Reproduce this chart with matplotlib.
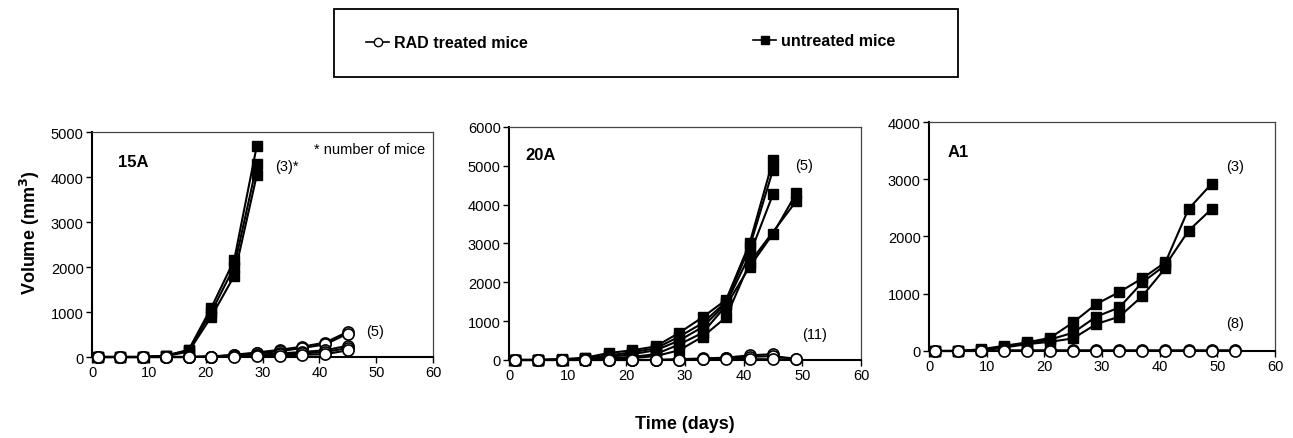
import matplotlib; matplotlib.use("Agg")
import matplotlib.pyplot as plt
from matplotlib.lines import Line2D
from matplotlib.patches import Rectangle

plt.rcParams['font.family'] = ['Liberation Sans', 'DejaVu Sans']

# ---- 15A ----
days_15a_untr = [1, 5, 9, 13, 17, 21, 25, 29]
untr_15a = [
    [0, 0, 0, 30, 160, 1100, 2150, 4700],
    [0, 0, 0, 30, 150, 1000, 2000, 4280],
    [0, 0, 0, 20, 120, 900, 1800, 4050],
]
days_15a_rad = [1, 5, 9, 13, 17, 21, 25, 29, 33, 37, 41, 45]
rad_15a = [
    [0, 0, 0, 0, 0, 10, 50, 100, 160, 230, 320, 560],
    [0, 0, 0, 0, 0, 10, 40, 80, 130, 200, 280, 520],
    [0, 0, 0, 0, 0, 5, 30, 50, 80, 110, 150, 250],
    [0, 0, 0, 0, 0, 5, 20, 40, 60, 80, 110, 200],
    [0, 0, 0, 0, 0, 5, 10, 20, 30, 50, 60, 150],
]

# ---- 20A ----
days_20a_untr = [
    [1, 5, 9, 13, 17, 21, 25, 29, 33, 37, 41, 45],
    [1, 5, 9, 13, 17, 21, 25, 29, 33, 37, 41, 45],
    [1, 5, 9, 13, 17, 21, 25, 29, 33, 37, 41, 45],
    [1, 5, 9, 13, 17, 21, 25, 29, 33, 37, 41, 45, 49],
    [1, 5, 9, 13, 17, 21, 25, 29, 33, 37, 41, 49],
]
untr_20a = [
    [0, 0, 20, 60, 180, 250, 350, 700, 1100, 1550, 3000, 5150],
    [0, 0, 10, 40, 120, 200, 300, 600, 950, 1500, 2900, 4900],
    [0, 0, 10, 30, 80, 150, 250, 500, 850, 1450, 2700, 4270],
    [0, 0, 5, 20, 50, 80, 150, 400, 700, 1400, 2400, 3250, 4300],
    [0, 0, 0, 10, 30, 50, 100, 250, 600, 1100, 2500, 4100],
]
days_20a_rad = [
    [1, 5, 9, 13, 17, 21, 25, 29, 33, 37, 41, 45],
    [1, 5, 9, 13, 17, 21, 25, 29, 33, 37, 41, 45, 49],
    [1, 5, 9, 13, 17, 21, 25, 29, 33, 37, 41, 45, 49],
]
rad_20a = [
    [0, 0, 0, 0, 0, 0, 0, 20, 40, 60, 120, 150],
    [0, 0, 0, 0, 0, 0, 0, 10, 30, 50, 80, 100, 30],
    [0, 0, 0, 0, 0, 0, 0, 0, 20, 30, 20, 20, 20],
]

# ---- A1 ----
days_a1_untr = [
    [1, 5, 9, 13, 17, 21, 25, 29, 33, 37, 41, 45, 49],
    [1, 5, 9, 13, 17, 21, 25, 29, 33, 37, 41, 45, 49],
    [1, 5, 9, 13, 17, 21, 25, 29, 33, 37, 41],
]
untr_a1 = [
    [0, 0, 30, 90, 150, 230, 500, 820, 1030, 1270, 1550, 2480, 2920],
    [0, 0, 20, 70, 130, 200, 320, 600, 760, 1200, 1500, 2100, 2480],
    [0, 0, 10, 60, 120, 160, 220, 470, 600, 960, 1450],
]
days_a1_rad = [1, 5, 9, 13, 17, 21, 25, 29, 33, 37, 41, 45, 49, 53]
rad_a1 = [
    [0, 0, 0, 10, 10, 10, 10, 10, 10, 10, 10, 10, 10, 10],
    [0, 0, 0, 5, 5, 5, 5, 5, 5, 5, 5, 5, 5, 5],
]

sq = dict(color='black', marker='s', ms=7, lw=1.5, mfc='black', mec='black')
ci = dict(color='black', marker='o', ms=8, lw=1.5, mfc='white', mec='black', mew=1.2)
ann = 10.5

fig = plt.figure(figsize=(12.93, 4.39), dpi=100)
pos = [(0.0712, 0.1845, 0.2637, 0.5125),
       (0.3937, 0.1777, 0.2722, 0.5308),
       (0.7185, 0.1982, 0.2676, 0.5216)]
axs = [fig.add_axes(p) for p in pos]

# panel 1
ax = axs[0]
for v in untr_15a:
    ax.plot(days_15a_untr, v, zorder=2, **sq)
for v in rad_15a:
    ax.plot(days_15a_rad, v, zorder=3, **ci)
ax.set_ylim(0, 5000); ax.set_yticks(range(0, 5001, 1000))
ax.text(4.6, 4350, '15A', fontsize=12, fontweight='bold', va='center')
ax.text(32.2, 4240, '(3)*', fontsize=ann, va='center')
ax.text(39, 4620, '* number of mice', fontsize=ann, va='center')
ax.text(48.3, 580, '(5)', fontsize=ann, va='center')

# panel 2
ax = axs[1]
for d, v in zip(days_20a_untr, untr_20a):
    ax.plot(d, v, zorder=2, **sq)
for d, v in zip(days_20a_rad, rad_20a):
    ax.plot(d, v, zorder=3, **ci)
ax.set_ylim(0, 6000); ax.set_yticks(range(0, 6001, 1000))
ax.text(2.7, 5300, '20A', fontsize=12, fontweight='bold', va='center')
ax.text(48.7, 5020, '(5)', fontsize=ann, va='center')
ax.text(50, 670, '(11)', fontsize=ann, va='center')

# panel 3
ax = axs[2]
for d, v in zip(days_a1_untr, untr_a1):
    ax.plot(d, v, zorder=2, **sq)
for v in rad_a1:
    ax.plot(days_a1_rad, v, zorder=3, **ci)
ax.set_ylim(0, 4000); ax.set_yticks(range(0, 4001, 1000))
ax.text(3.3, 3480, 'A1', fontsize=12, fontweight='bold', va='center')
ax.text(51.6, 3230, '(3)', fontsize=ann, va='center')
ax.text(51.6, 490, '(8)', fontsize=ann, va='center')

for ax in axs:
    ax.set_xlim(0, 60); ax.set_xticks(range(0, 61, 10))
    for s in ('left', 'bottom'):
        ax.spines[s].set_linewidth(1.5)
    for s in ('top', 'right'):
        ax.spines[s].set_linewidth(0.9)
        ax.spines[s].set_color('#444444')
    ax.tick_params(direction='out', length=4, width=1.0, labelsize=10.5, pad=2)
    for c in ax.get_children():
        if isinstance(c, Line2D):
            c.set_clip_on(False)

fig.text(0.023, 0.47, 'Volume (mm$^\\mathbf{3}$)', rotation=90, fontsize=13,
         fontweight='bold', ha='center', va='center')
fig.text(0.53, 0.032, 'Time (days)', fontsize=13, fontweight='bold',
         ha='center', va='center')

# legend box
fig.patches.append(Rectangle((334 / 1293, 1 - 78 / 439), 624 / 1293, 68 / 439,
                             transform=fig.transFigure, fill=False,
                             edgecolor='black', lw=1.3))
h_rad = Line2D([], [], color='black', marker='o', ms=6, mfc='white', mec='black', lw=1.2)
h_untr = Line2D([], [], color='black', marker='s', ms=5.5, mfc='black', mec='black', lw=1.2)
fig.legend([h_rad], ['RAD treated mice'], loc='center left',
           bbox_to_anchor=(352 / 1293, 1 - 44 / 439), frameon=False,
           handlelength=1.4, handletextpad=0.3, prop=dict(weight='bold', size=11.5))
fig.legend([h_untr], ['untreated mice'], loc='center left',
           bbox_to_anchor=(739 / 1293, 1 - 42 / 439), frameon=False,
           handlelength=1.4, handletextpad=0.3, prop=dict(weight='bold', size=11.5))

fig.savefig('out.png', dpi=100)
